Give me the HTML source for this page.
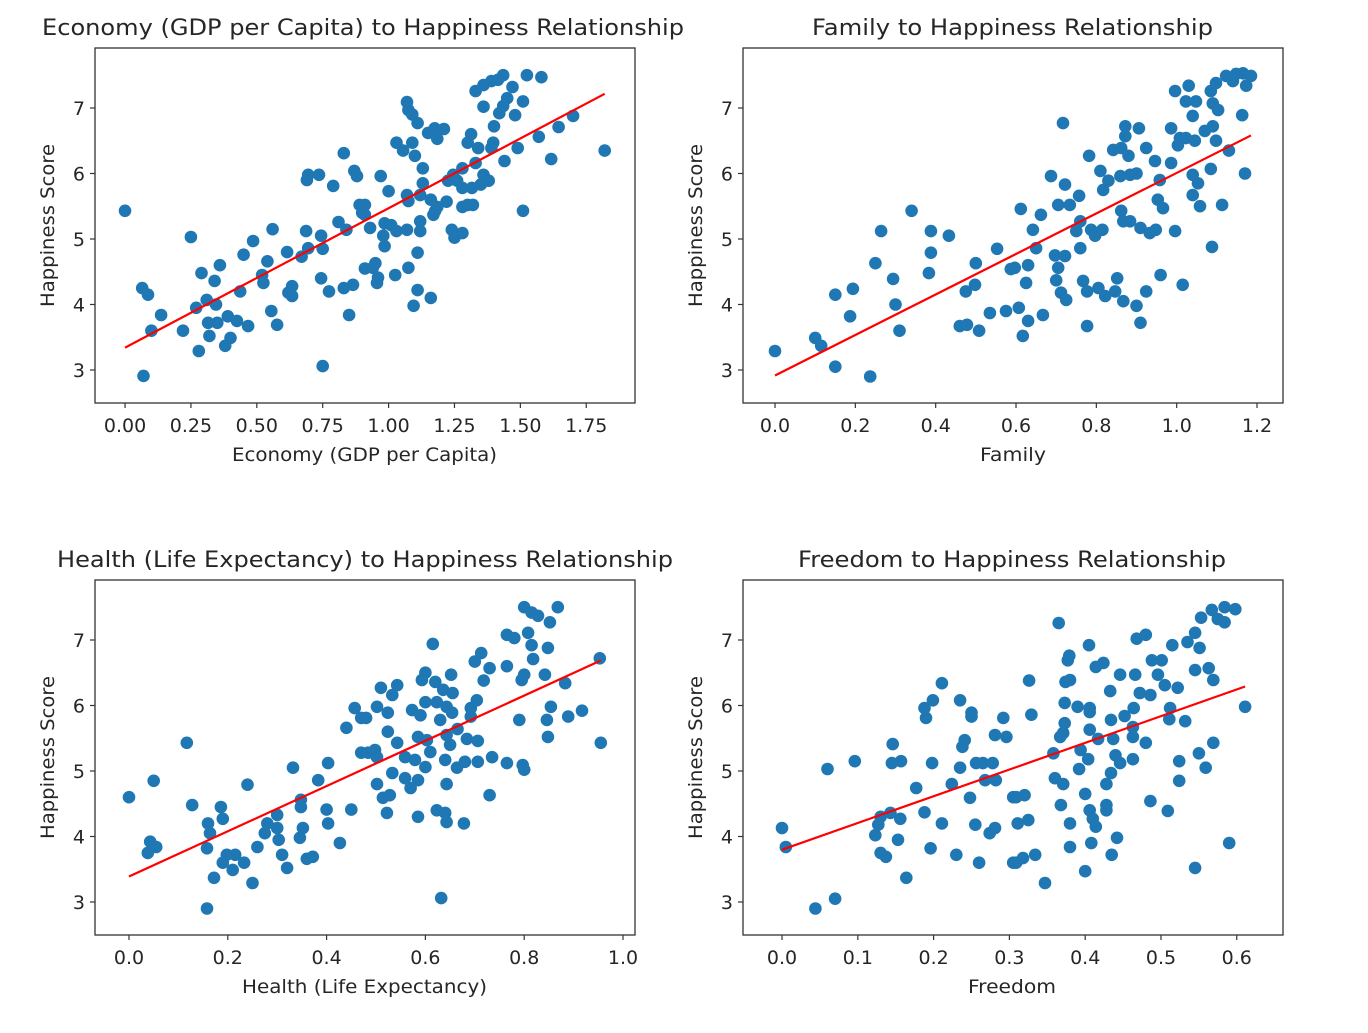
<!DOCTYPE html>
<html><head><meta charset="utf-8"><style>
body{margin:0;background:#fff;}
svg text{font-family:"DejaVu Sans","Liberation Sans",sans-serif;fill:#262626;}
</style></head><body>
<svg id="fig" width="1368" height="1028" viewBox="0 0 1368 1028" xmlns="http://www.w3.org/2000/svg"></svg>
<script>
const econX=[0.0,.065,.087,.137,.10,.07,.25,.29,.27,.22,.28,.32,.31,.34,.345,.36,.315,.35,.39,.425,.38,.40,.467,.437,.45,.486,.54,.52,.525,.555,.577,.56,.615,.62,.634,.634,.67,.687,.695,.744,.75,.744,.774,.75,.69,.695,.736,.79,.83,.87,.88,.81,.84,.83,.865,.85,.89,.90,.91,
1.435,1.415,1.39,1.36,1.33,1.525,1.58,1.47,1.45,1.51,1.435,1.42,1.48,1.36,1.70,1.645,1.57,1.49,1.617,1.82,1.44,1.40,1.397,1.39,1.313,1.30,1.34,1.33,1.28,1.245,1.226,1.26,1.28,1.316,1.36,1.38,1.35,1.30,1.32,1.28,1.51,1.22,1.185,1.17,1.16,1.13,1.12,1.07,1.075,1.0,.97,1.13,1.10,1.055,1.03,1.09,1.11,1.09,1.07,1.075,1.15,1.175,1.21,1.185,.91,.93,.985,1.01,1.03,.98,.985,1.07,1.12,1.12,1.177,1.24,1.25,1.28,1.11,.95,.94,.96,.956,1.025,1.075,1.11,1.16,1.095,.91];
const econY=[5.43,4.25,4.15,3.84,3.6,2.91,5.03,4.48,3.95,3.6,3.29,3.52,4.07,4.36,4.0,4.6,3.72,3.72,3.82,3.75,3.37,3.49,3.67,4.2,4.76,4.97,4.66,4.45,4.33,3.9,3.69,5.15,4.8,4.18,4.28,4.13,4.73,5.12,4.86,5.05,4.85,4.4,4.2,3.06,5.9,5.98,5.98,5.81,6.31,6.04,5.96,5.26,5.14,4.25,4.3,3.84,5.52,5.4,4.55,
7.5,7.43,7.41,7.35,7.26,7.5,7.47,7.32,7.15,7.1,7.03,6.92,6.89,7.02,6.88,6.71,6.56,6.39,6.22,6.35,6.19,6.72,6.47,6.39,6.6,6.47,6.39,6.16,6.08,5.98,5.89,5.89,5.78,5.78,5.98,5.89,5.83,5.52,5.52,5.49,5.43,5.57,5.49,5.37,5.6,5.85,5.67,5.67,5.58,5.73,5.96,6.08,6.27,6.35,6.47,6.47,6.77,6.9,7.09,6.97,6.62,6.69,6.68,6.53,5.52,5.17,5.24,5.21,5.12,5.05,4.89,5.14,5.12,5.27,5.43,5.14,5.02,5.09,4.79,4.63,4.56,4.41,4.33,4.45,4.56,4.22,4.1,3.98,5.37];

const famX=[0.0,.10,.115,.15,.237,.15,.187,.194,.25,.264,.294,.30,.31,.34,.383,.388,.388,.433,.46,.478,.508,.475,.498,.50,.535,.553,.575,.587,
.597,.607,.63,.617,.667,.625,.63,.65,.642,.662,.612,.687,.717,.722,.705,.734,.757,.697,.722,.705,.70,.712,.725,.76,.75,.76,.787,.797,.815,.767,.777,.805,.822,.847,.852,.867,.90,.91,.924,.777,.96,1.015,1.088,.996,.862,.867,.884,.91,.933,.948,.953,.966,.782,.81,.817,.83,.842,.862,.88,.872,.872,.906,.924,.946,.86,.884,.90,.958,.986,.986,1.008,1.023,1.045,1.003,1.04,1.053,1.04,1.058,1.113,1.085,1.098,1.13,1.17,1.07,1.09,.996,1.03,1.023,1.048,1.04,1.09,1.103,1.085,1.098,1.123,1.14,1.165,1.185,1.173,1.163,1.148];
const famY=[3.29,3.49,3.37,3.05,2.9,4.15,3.82,4.24,4.63,5.12,4.39,4.0,3.6,5.43,4.48,4.79,5.12,5.05,3.67,3.69,3.6,4.2,4.3,4.63,3.87,4.85,3.9,4.54,
4.56,3.95,3.75,3.52,3.84,4.33,4.6,4.86,5.14,5.37,5.46,5.96,6.77,5.83,5.52,5.52,5.66,4.75,4.74,4.56,4.37,4.18,4.07,5.27,5.12,4.86,5.14,5.05,5.14,4.36,4.2,4.25,4.13,4.2,4.4,4.05,3.98,3.72,4.2,3.67,4.45,4.3,4.88,5.12,5.43,5.27,5.27,5.17,5.09,5.14,5.6,5.47,6.27,6.04,5.75,5.89,6.36,6.39,6.27,6.72,6.57,6.69,6.39,6.19,5.96,5.98,6.0,5.9,6.16,6.69,6.54,6.54,6.5,6.43,5.98,5.85,5.67,5.5,5.52,6.07,6.5,6.35,6.0,6.65,6.72,7.26,7.34,7.1,7.1,6.88,7.07,6.97,7.26,7.38,7.49,7.41,7.53,7.49,7.34,6.89,7.52];

const healthX=[0.0,.05,.043,.055,.038,.117,.128,.16,.164,.158,.186,.19,.198,.215,.19,.21,.233,.172,.25,.158,.24,.26,.275,.28,.30,.30,.303,.31,.32,.332,.348,.348,.352,.346,.36,.372,.383,.403,.40,.403,.427,.45,.44,.457,.47,.47,
.80,.815,.828,.852,.868,.765,.78,.808,.815,.848,.818,.80,.795,.842,.883,.953,.765,.713,.70,.73,.718,.652,.615,.60,.593,.62,.636,.655,.543,.51,.533,.502,.524,.48,.573,.59,.60,.623,.643,.63,.654,.692,.704,.692,.79,.846,.854,.889,.917,.848,.955,.524,.585,.603,.643,.665,.684,.706,.65,.543,.498,.484,.502,.559,.579,.61,.60,.64,.664,.68,.706,.735,.765,.797,.80,.533,.559,.585,.57,.502,.643,.528,.514,.522,.73,.585,.623,.64,.643,.678,.632];
const healthY=[4.6,4.85,3.92,3.84,3.75,5.43,4.48,4.2,4.05,3.82,4.45,4.27,3.72,3.72,3.6,3.49,3.6,3.37,3.29,2.9,4.79,3.84,4.05,4.2,4.33,4.13,3.95,3.72,3.52,5.05,4.56,4.45,4.13,3.98,3.66,3.69,4.86,5.12,4.41,4.2,3.9,4.41,5.66,5.96,5.81,5.28,
7.5,7.42,7.37,7.27,7.5,7.08,7.03,7.11,6.92,6.88,6.71,6.47,6.39,6.47,6.34,6.72,6.6,6.8,6.67,6.57,6.38,6.47,6.94,6.5,6.39,6.36,6.24,6.19,6.31,6.27,6.16,5.98,5.89,5.81,5.93,5.85,6.05,6.05,5.98,5.78,5.89,5.96,6.08,5.83,5.78,5.78,5.98,5.83,5.92,5.52,5.43,5.6,5.52,5.47,5.55,5.64,5.49,5.46,5.4,5.43,5.32,5.28,5.21,5.21,5.17,5.29,5.06,5.17,5.05,5.14,5.14,5.21,5.12,5.09,5.02,4.97,4.89,4.86,4.74,4.8,4.8,4.63,4.59,4.36,4.63,4.3,4.4,4.36,4.22,4.2,3.06];

const freeX=[0.0,.005,.044,.07,.06,.096,.146,.145,.157,.13,.143,.127,.123,.156,.153,.13,.137,.164,.177,.188,.196,.198,.188,.199,.19,.211,.211,.224,.23,.235,.25,.25,.241,.238,.235,.256,.265,.278,.268,.282,.248,.255,.274,.281,.26,.292,.281,.296,.305,.305,
.365,.309,.32,.311,.325,.309,.318,.334,.347,.326,.329,.373,.379,.377,.374,.38,.405,.414,.424,.433,.446,.466,.468,.48,.472,.486,.488,.501,.496,.505,.515,.522,.535,.545,.551,.553,.567,.575,.584,.598,.584,.545,.563,.569,.611,.39,.406,.406,.373,.371,.367,.406,.417,.434,.452,.464,.463,.463,.437,.48,.512,.511,.532,.358,.394,.404,.392,.44,.446,.463,.434,.428,.36,.371,.40,.368,.406,.41,.414,.428,.428,.38,.442,.38,.408,.435,.40,.486,.509,.524,.524,.55,.569,.559,.59,.545];
const freeY=[4.13,3.84,2.9,3.05,5.03,5.15,5.41,5.12,5.15,4.3,4.36,4.18,4.02,4.27,3.95,3.75,3.69,3.37,4.74,4.37,3.82,5.12,5.96,6.08,5.81,6.34,4.2,4.8,3.72,6.08,5.89,5.83,5.47,5.37,5.05,5.12,5.12,5.12,4.86,4.86,4.59,4.18,4.05,4.13,3.6,5.81,5.55,5.52,4.6,3.6,
7.26,4.6,4.63,4.2,4.25,3.6,3.67,3.72,3.29,6.38,5.86,6.04,6.76,6.69,6.36,6.39,6.92,6.59,6.65,6.22,6.47,6.47,7.02,7.08,6.19,6.16,6.69,6.69,6.47,6.31,6.92,6.27,6.97,7.11,6.88,7.34,7.46,7.32,7.5,7.47,7.27,6.54,6.57,6.39,5.98,5.98,5.96,5.9,5.73,5.58,5.52,5.63,5.49,5.78,5.84,5.96,5.67,5.52,5.49,5.43,5.96,5.79,5.76,5.27,5.32,5.18,5.03,5.24,5.12,5.18,4.97,4.8,4.89,4.8,4.65,4.48,4.4,4.27,4.15,4.48,4.4,4.2,3.98,3.84,3.9,3.72,3.47,4.54,4.39,5.15,4.85,5.27,5.43,5.05,3.9,3.52];

const yTicks=[3,4,5,6,7];
const econTicks=[0,0.25,0.5,0.75,1.0,1.25,1.5,1.75];
const econTickLabels=["0.00","0.25","0.50","0.75","1.00","1.25","1.50","1.75"];
const famTicks=[0,0.2,0.4,0.6,0.8,1.0,1.2];
const famTickLabels=["0.0","0.2","0.4","0.6","0.8","1.0","1.2"];
const healthTicks=[0,0.2,0.4,0.6,0.8,1.0];
const healthTickLabels=["0.0","0.2","0.4","0.6","0.8","1.0"];
const freeTicks=[0,0.1,0.2,0.3,0.4,0.5,0.6];
const freeTickLabels=["0.0","0.1","0.2","0.3","0.4","0.5","0.6"];

const NS="http://www.w3.org/2000/svg";
const svg=document.getElementById('fig');
function mk(tag,attrs,parent){const e=document.createElementNS(NS,tag);for(const k in attrs)e.setAttribute(k,attrs[k]);(parent||svg).appendChild(e);return e;}

const panels=[
 {key:'economy',xs:econX,ys:econY,ticks:econTicks,labels:econTickLabels,box:[95,48,635,403],xd:[-0.114,1.935],title:"Economy (GDP per Capita) to Happiness Relationship",tl:[42,684],xl:"Economy (GDP per Capita)",xll:[232,497]},
 {key:'family',xs:famX,ys:famY,ticks:famTicks,labels:famTickLabels,box:[743,48,1283,403],xd:[-0.0797,1.2647],title:"Family to Happiness Relationship",tl:[812,1213],xl:"Family",xll:[980,1046]},
 {key:'health',xs:healthX,ys:healthY,ticks:healthTicks,labels:healthTickLabels,box:[95,580,635,935],xd:[-0.0688,1.0243],title:"Health (Life Expectancy) to Happiness Relationship",tl:[57,673],xl:"Health (Life Expectancy)",xll:[242,487]},
 {key:'freedom',xs:freeX,ys:freeY,ticks:freeTicks,labels:freeTickLabels,box:[743,580,1283,935],xd:[-0.0515,0.661],title:"Freedom to Happiness Relationship",tl:[798,1226],xl:"Freedom",xll:[968,1056]}
];
const yDom=[2.496,7.916];

panels.forEach(p=>{
 const [x0,y0,x1,y1]=p.box;
 const g=mk('g',{});
 
 
 const sx=v=>x0+(v-p.xd[0])/(p.xd[1]-p.xd[0])*(x1-x0);
 const sy=v=>y1-(v-yDom[0])/(yDom[1]-yDom[0])*(y1-y0);
 // points
 const pg=mk('g',{},g);
 
 
 for(let i=0;i<p.xs.length;i++){
  const c=mk('circle',{cx:sx(p.xs[i]).toFixed(1),cy:sy(p.ys[i]).toFixed(1),r:6.3,fill:'#1f77b4'},pg);
  
  
 }
 // regression
 const n=p.xs.length;let mx=0,my=0;for(let i=0;i<n;i++){mx+=p.xs[i];my+=p.ys[i];}mx/=n;my/=n;
 let sxy=0,sxx=0;for(let i=0;i<n;i++){sxy+=(p.xs[i]-mx)*(p.ys[i]-my);sxx+=(p.xs[i]-mx)**2;}
 const b=sxy/sxx,a=my-b*mx;const xmin=Math.min(...p.xs),xmax=Math.max(...p.xs);
 const ln=mk('line',{x1:sx(xmin),y1:sy(a+b*xmin),x2:sx(xmax),y2:sy(a+b*xmax),stroke:'#ff0000','stroke-width':2.2},g);
 
 
 // frame
 const fr=mk('rect',{x:x0,y:y0,width:x1-x0,height:y1-y0,fill:'none',stroke:'#333','stroke-width':1.3},g);
 
 
 // x ticks
 p.ticks.forEach((t,i)=>{
  const X=sx(t);
  mk('line',{x1:X,y1:y1,x2:X,y2:y1+5,stroke:'#333','stroke-width':1.2},g);
  const tx=mk('text',{x:X,y:y1+29,'text-anchor':'middle','font-size':19},g);
  tx.textContent=p.labels[i];
  
  
 });
 yTicks.forEach(t=>{
  const Y=sy(t);
  mk('line',{x1:x0,y1:Y,x2:x0-5,y2:Y,stroke:'#333','stroke-width':1.2},g);
  const tx=mk('text',{x:x0-10,y:Y+7,'text-anchor':'end','font-size':19},g);
  tx.textContent=String(t);
  
  
 });
 const ti=mk('text',{x:p.tl[0],y:35,'font-size':22,textLength:p.tl[1]-p.tl[0],lengthAdjust:'spacingAndGlyphs'},g);
 ti.textContent=p.title;
 
 
 ti.setAttribute('y',y0-13);
 const xl=mk('text',{x:p.xll[0],y:y1+58,'font-size':19,textLength:p.xll[1]-p.xll[0],lengthAdjust:'spacingAndGlyphs'},g);
 xl.textContent=p.xl;
 
 
 const cy=(y0+y1)/2;
 const yl=mk('text',{x:0,y:0,'font-size':19,'text-anchor':'middle',transform:`translate(${x0-41},${cy}) rotate(-90)`,textLength:163,lengthAdjust:'spacingAndGlyphs'},g);
 yl.textContent="Happiness Score";
 
 
});
</script>
</body></html>
